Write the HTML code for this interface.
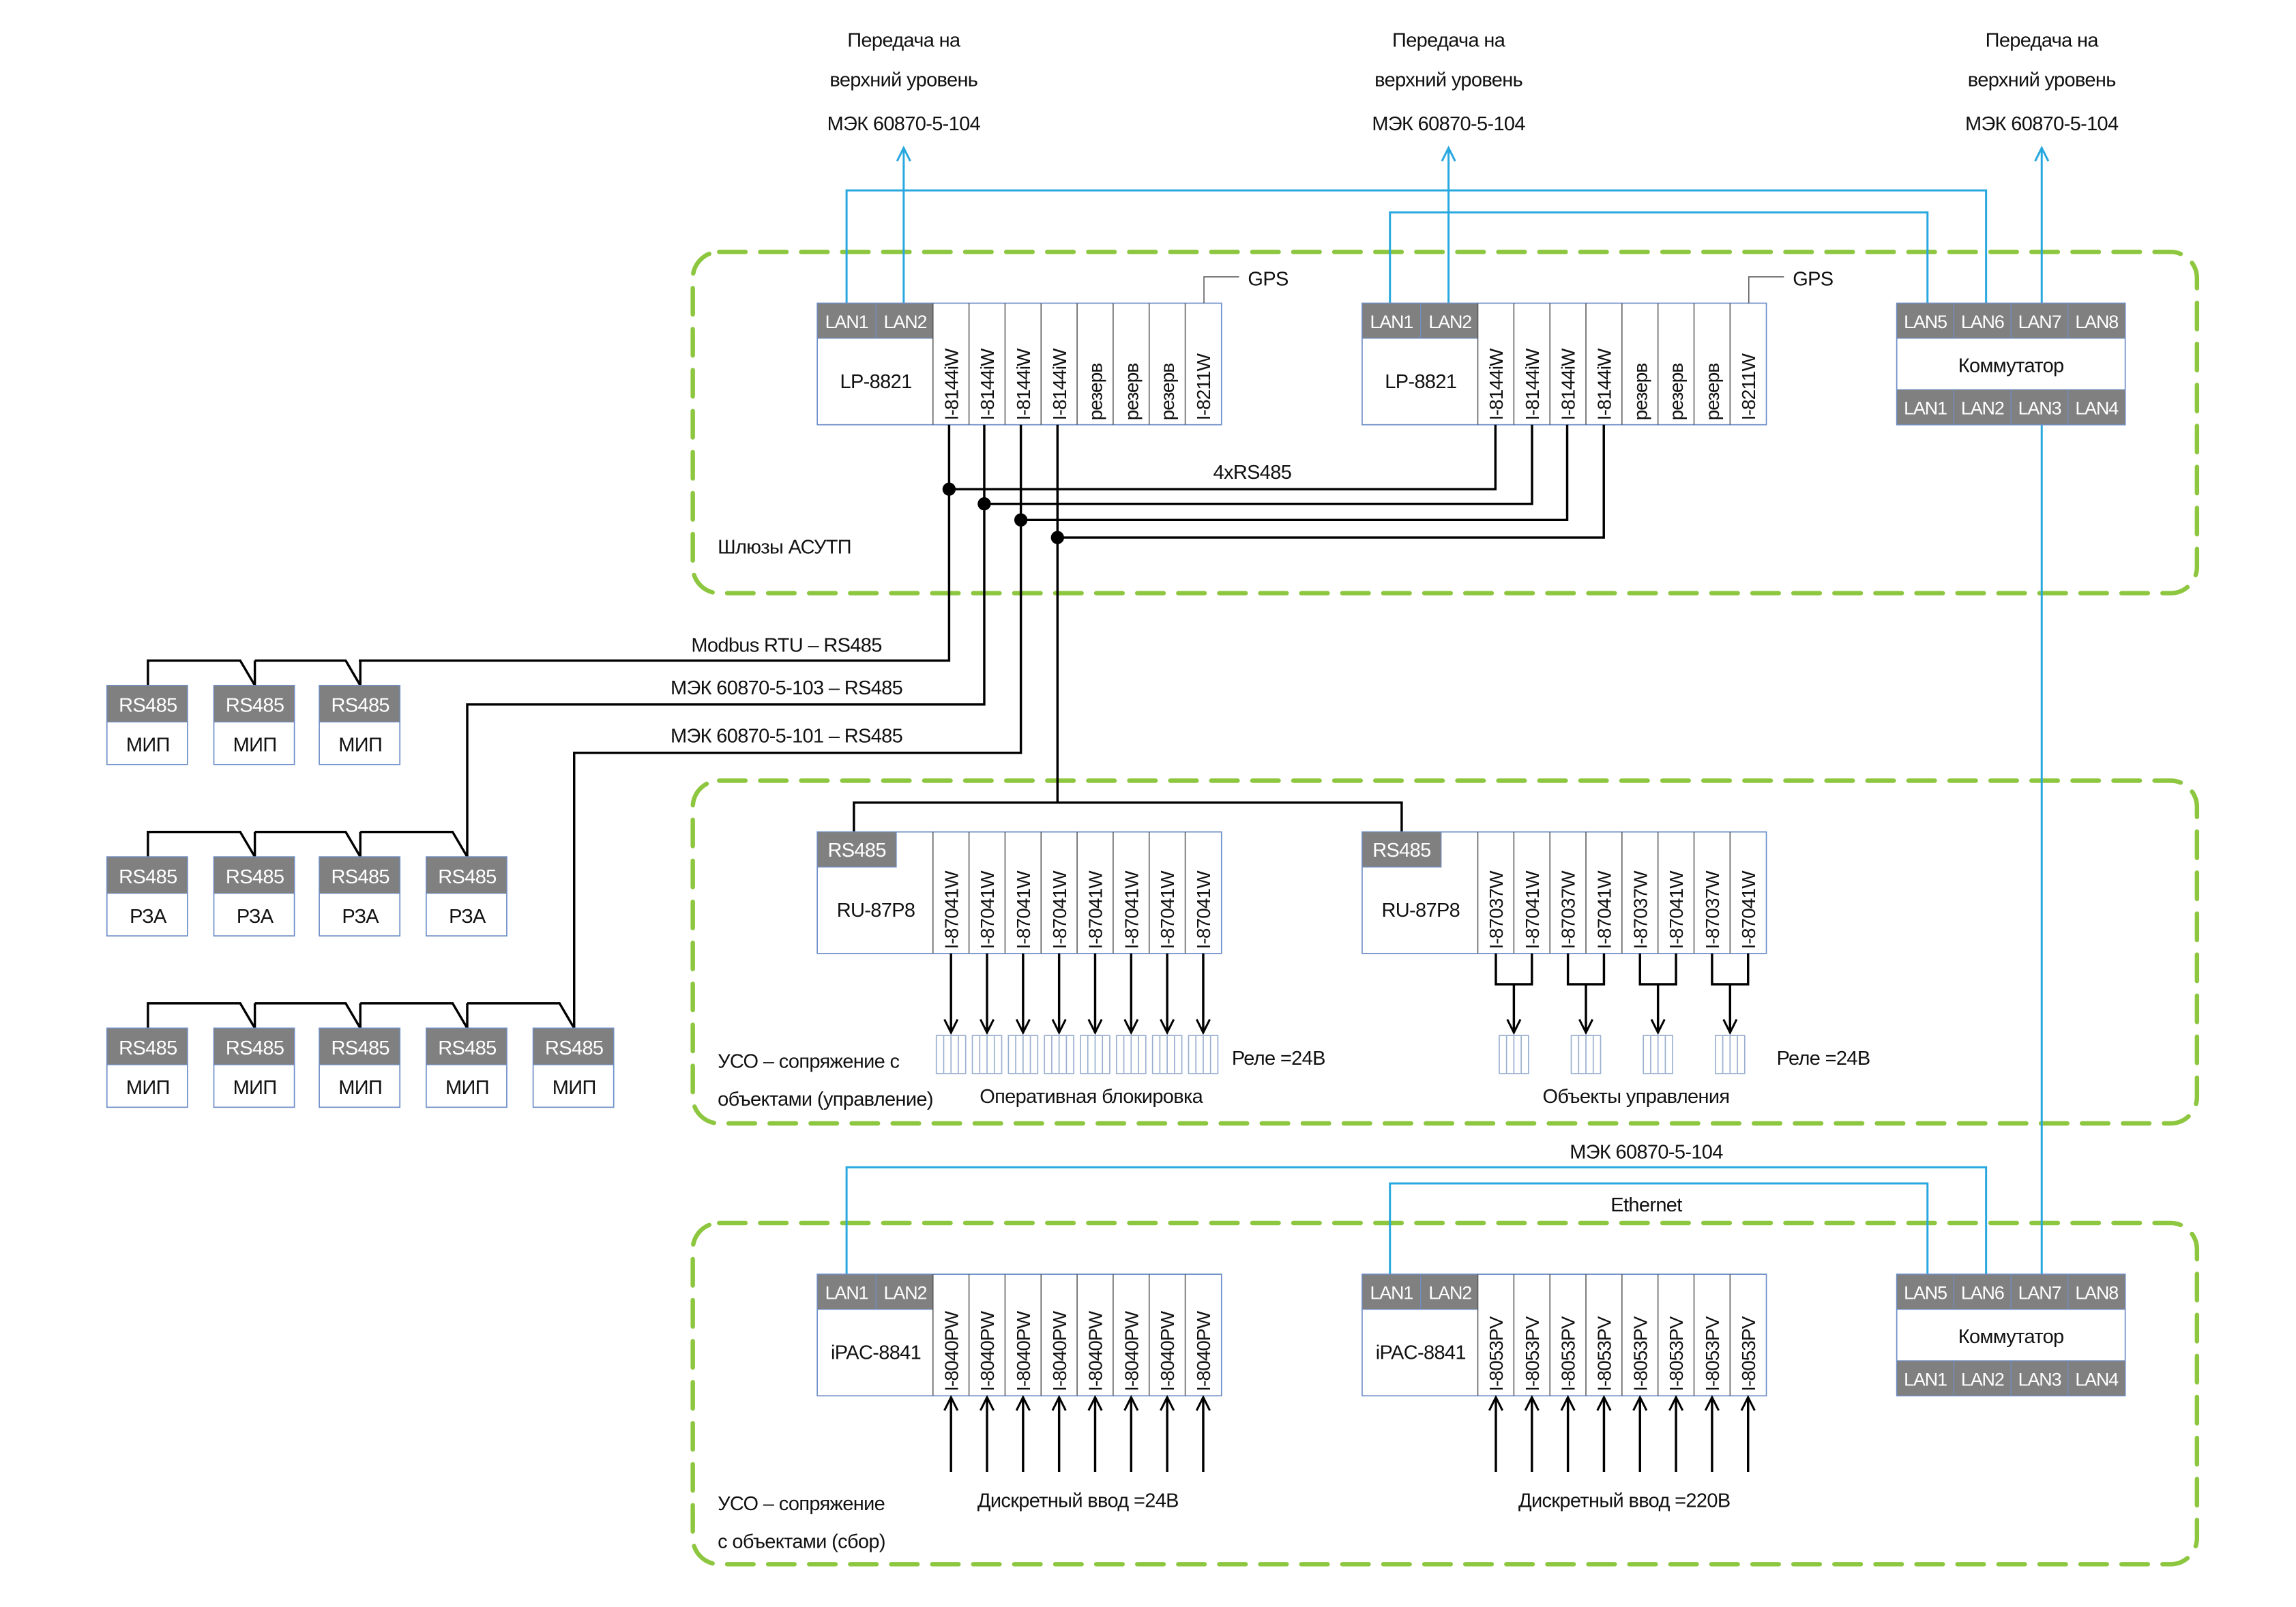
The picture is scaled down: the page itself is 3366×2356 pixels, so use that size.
<!DOCTYPE html>
<html><head><meta charset="utf-8"><style>
html,body{margin:0;padding:0;background:#fff;}
svg{display:block;}
text{font-family:"Liberation Sans Narrow","Liberation Sans",sans-serif;font-size:13.5px;letter-spacing:-0.3px;fill:#111;}
.w{fill:#fff;}
.h{font-size:12.5px;letter-spacing:-0.5px;}
.c{text-anchor:middle;}
.r{font-size:13px;letter-spacing:-0.4px;}
.box{fill:#fff;stroke:#6f8fc9;stroke-width:0.8;}
.hd{fill:#808080;stroke:#6f8fc9;stroke-width:0.5;}
.dash{fill:none;stroke:#8dc63f;stroke-width:3;stroke-dasharray:18 10;stroke-linecap:round;}
.bl{fill:none;stroke:#29a8e0;stroke-width:1.4;}
.k{fill:none;stroke:#000;stroke-width:1.6;}
.g{fill:none;stroke:#555;stroke-width:0.7;}
.rl{fill:#fff;stroke:#9bb0d0;stroke-width:0.8;}
</style></head><body>
<svg width="3366" height="2356" viewBox="0 0 1567.6 1097.2" preserveAspectRatio="none" xmlns="http://www.w3.org/2000/svg">
<defs>
<marker id="ab" markerWidth="12" markerHeight="12" refX="10" refY="6" orient="auto" markerUnits="userSpaceOnUse"><path d="M1,1.5 L10,6 L1,10.5" fill="none" stroke="#29a8e0" stroke-width="1.4"/></marker>
<marker id="ak" markerWidth="12" markerHeight="12" refX="10" refY="6" orient="auto" markerUnits="userSpaceOnUse"><path d="M1,1.5 L10,6 L1,10.5" fill="none" stroke="#000" stroke-width="1.4"/></marker>
</defs>

<text class="c" x="617" y="32">Передача на</text><text class="c" x="617" y="59">верхний уровень</text><text class="c" x="617" y="89">МЭК 60870-5-104</text>
<text class="c" x="989" y="32">Передача на</text><text class="c" x="989" y="59">верхний уровень</text><text class="c" x="989" y="89">МЭК 60870-5-104</text>
<text class="c" x="1394" y="32">Передача на</text><text class="c" x="1394" y="59">верхний уровень</text><text class="c" x="1394" y="89">МЭК 60870-5-104</text>

<rect class="dash" x="473" y="172" width="1027" height="233" rx="18"/>
<rect class="dash" x="473" y="533" width="1027" height="234" rx="18"/>
<rect class="dash" x="473" y="835" width="1027" height="233" rx="18"/>

<polyline class="bl" points="578,207 578,130 1356,130 1356,207"/>
<line class="bl" x1="617" y1="207" x2="617" y2="101" marker-end="url(#ab)"/>
<polyline class="bl" points="949,207 949,145 1316,145 1316,207"/>
<line class="bl" x1="989" y1="207" x2="989" y2="101" marker-end="url(#ab)"/>
<line class="bl" x1="1394" y1="207" x2="1394" y2="101" marker-end="url(#ab)"/>
<line class="bl" x1="1394" y1="290" x2="1394" y2="870"/>
<polyline class="bl" points="578,870 578,797 1356,797 1356,870"/>
<polyline class="bl" points="949,870 949,808 1316,808 1316,870"/>
<text class="c" x="1124" y="791">МЭК 60870-5-104</text>
<text class="c" x="1124" y="827">Ethernet</text>

<!-- LP-8821 #1 -->
<rect class="box" x="558" y="207" width="276" height="83"/>
<rect class="hd" x="558" y="207" width="40" height="24"/><rect class="hd" x="598" y="207" width="39" height="24"/>
<text class="w c h" x="578" y="224">LAN1</text><text class="w c h" x="618" y="224">LAN2</text>
<text class="c" x="598" y="265">LP-8821</text>
<g class="g">
<line x1="637" y1="207" x2="637" y2="290"/><line x1="661.6" y1="207" x2="661.6" y2="290"/><line x1="686.2" y1="207" x2="686.2" y2="290"/><line x1="710.8" y1="207" x2="710.8" y2="290"/><line x1="735.4" y1="207" x2="735.4" y2="290"/><line x1="760" y1="207" x2="760" y2="290"/><line x1="784.6" y1="207" x2="784.6" y2="290"/><line x1="809.2" y1="207" x2="809.2" y2="290"/>
</g>
<text class="r" transform="translate(654,287) rotate(-90)">I-8144iW</text>
<text class="r" transform="translate(678.6,287) rotate(-90)">I-8144iW</text>
<text class="r" transform="translate(703.2,287) rotate(-90)">I-8144iW</text>
<text class="r" transform="translate(727.8,287) rotate(-90)">I-8144iW</text>
<text class="r" transform="translate(752.4,287) rotate(-90)">резерв</text>
<text class="r" transform="translate(777,287) rotate(-90)">резерв</text>
<text class="r" transform="translate(801.6,287) rotate(-90)">резерв</text>
<text class="r" transform="translate(826.2,287) rotate(-90)">I-8211W</text>
<polyline class="g" points="822,207 822,189 846,189"/><text x="852" y="195">GPS</text>

<!-- LP-8821 #2 -->
<rect class="box" x="930" y="207" width="276" height="83"/>
<rect class="hd" x="930" y="207" width="40" height="24"/><rect class="hd" x="970" y="207" width="39" height="24"/>
<text class="w c h" x="950" y="224">LAN1</text><text class="w c h" x="990" y="224">LAN2</text>
<text class="c" x="970" y="265">LP-8821</text>
<g class="g">
<line x1="1009" y1="207" x2="1009" y2="290"/><line x1="1033.6" y1="207" x2="1033.6" y2="290"/><line x1="1058.2" y1="207" x2="1058.2" y2="290"/><line x1="1082.8" y1="207" x2="1082.8" y2="290"/><line x1="1107.4" y1="207" x2="1107.4" y2="290"/><line x1="1132" y1="207" x2="1132" y2="290"/><line x1="1156.6" y1="207" x2="1156.6" y2="290"/><line x1="1181.2" y1="207" x2="1181.2" y2="290"/>
</g>
<text class="r" transform="translate(1026,287) rotate(-90)">I-8144iW</text>
<text class="r" transform="translate(1050.6,287) rotate(-90)">I-8144iW</text>
<text class="r" transform="translate(1075.2,287) rotate(-90)">I-8144iW</text>
<text class="r" transform="translate(1099.8,287) rotate(-90)">I-8144iW</text>
<text class="r" transform="translate(1124.4,287) rotate(-90)">резерв</text>
<text class="r" transform="translate(1149,287) rotate(-90)">резерв</text>
<text class="r" transform="translate(1173.6,287) rotate(-90)">резерв</text>
<text class="r" transform="translate(1198.2,287) rotate(-90)">I-8211W</text>
<polyline class="g" points="1194,207 1194,189 1218,189"/><text x="1224" y="195">GPS</text>

<!-- Switch top -->
<rect class="box" x="1295" y="207" width="156" height="83"/>
<rect class="hd" x="1295" y="207" width="39" height="24"/><rect class="hd" x="1334" y="207" width="39" height="24"/><rect class="hd" x="1373" y="207" width="39" height="24"/><rect class="hd" x="1412" y="207" width="39" height="24"/>
<text class="w c h" x="1314.5" y="224">LAN5</text><text class="w c h" x="1353.5" y="224">LAN6</text><text class="w c h" x="1392.5" y="224">LAN7</text><text class="w c h" x="1431.5" y="224">LAN8</text>
<text class="c" x="1373" y="254">Коммутатор</text>
<rect class="hd" x="1295" y="266" width="39" height="24"/><rect class="hd" x="1334" y="266" width="39" height="24"/><rect class="hd" x="1373" y="266" width="39" height="24"/><rect class="hd" x="1412" y="266" width="39" height="24"/>
<text class="w c h" x="1314.5" y="283">LAN1</text><text class="w c h" x="1353.5" y="283">LAN2</text><text class="w c h" x="1392.5" y="283">LAN3</text><text class="w c h" x="1431.5" y="283">LAN4</text>

<text x="490" y="378">Шлюзы АСУТП</text>

<polyline class="k" points="1021,290 1021,334 648,334"/>
<polyline class="k" points="1046,290 1046,344 672,344"/>
<polyline class="k" points="1070,290 1070,355 697,355"/>
<polyline class="k" points="1095,290 1095,367 722,367"/>
<text class="c" x="855" y="327">4xRS485</text>
<polyline class="k" points="648,290 648,451 245,451"/>
<polyline class="k" points="672,290 672,481 319,481 319,585"/>
<polyline class="k" points="697,290 697,514 392,514 392,702"/>
<polyline class="k" points="722,290 722,548"/>
<polyline class="k" points="583,568 583,548 957,548 957,568"/>
<circle cx="648" cy="334" r="4.5"/><circle cx="672" cy="344" r="4.5"/><circle cx="697" cy="355" r="4.5"/><circle cx="722" cy="367" r="4.5"/>
<text class="c" x="537" y="445">Modbus RTU – RS485</text>
<text class="c" x="537" y="474">МЭК 60870-5-103 – RS485</text>
<text class="c" x="537" y="507">МЭК 60870-5-101 – RS485</text>

<polyline class="k" points="101,468 101,451 164,451 174,468"/><line class="k" x1="174" y1="451" x2="174" y2="468"/>
<polyline class="k" points="174,451 236,451 246,468"/><line class="k" x1="246" y1="451" x2="246" y2="468"/>
<polyline class="k" points="101,585 101,568 164,568 174,585"/><line class="k" x1="174" y1="568" x2="174" y2="585"/>
<polyline class="k" points="174,568 236,568 246,585"/><line class="k" x1="246" y1="568" x2="246" y2="585"/>
<polyline class="k" points="246,568 309,568 319,585"/>
<polyline class="k" points="101,702 101,685 164,685 174,702"/><line class="k" x1="174" y1="685" x2="174" y2="702"/>
<polyline class="k" points="174,685 236,685 246,702"/><line class="k" x1="246" y1="685" x2="246" y2="702"/>
<polyline class="k" points="246,685 309,685 319,702"/><line class="k" x1="319" y1="685" x2="319" y2="702"/>
<polyline class="k" points="319,685 382,685 392,702"/>

<g>
<rect class="box" x="73" y="468" width="55" height="54"/><rect class="hd" x="73" y="468" width="55" height="25"/><text class="w c" x="101" y="486">RS485</text><text class="c" x="101" y="513">МИП</text>
<rect class="box" x="146" y="468" width="55" height="54"/><rect class="hd" x="146" y="468" width="55" height="25"/><text class="w c" x="174" y="486">RS485</text><text class="c" x="174" y="513">МИП</text>
<rect class="box" x="218" y="468" width="55" height="54"/><rect class="hd" x="218" y="468" width="55" height="25"/><text class="w c" x="246" y="486">RS485</text><text class="c" x="246" y="513">МИП</text>
<rect class="box" x="73" y="585" width="55" height="54"/><rect class="hd" x="73" y="585" width="55" height="25"/><text class="w c" x="101" y="603">RS485</text><text class="c" x="101" y="630">РЗА</text>
<rect class="box" x="146" y="585" width="55" height="54"/><rect class="hd" x="146" y="585" width="55" height="25"/><text class="w c" x="174" y="603">RS485</text><text class="c" x="174" y="630">РЗА</text>
<rect class="box" x="218" y="585" width="55" height="54"/><rect class="hd" x="218" y="585" width="55" height="25"/><text class="w c" x="246" y="603">RS485</text><text class="c" x="246" y="630">РЗА</text>
<rect class="box" x="291" y="585" width="55" height="54"/><rect class="hd" x="291" y="585" width="55" height="25"/><text class="w c" x="319" y="603">RS485</text><text class="c" x="319" y="630">РЗА</text>
<rect class="box" x="73" y="702" width="55" height="54"/><rect class="hd" x="73" y="702" width="55" height="25"/><text class="w c" x="101" y="720">RS485</text><text class="c" x="101" y="747">МИП</text>
<rect class="box" x="146" y="702" width="55" height="54"/><rect class="hd" x="146" y="702" width="55" height="25"/><text class="w c" x="174" y="720">RS485</text><text class="c" x="174" y="747">МИП</text>
<rect class="box" x="218" y="702" width="55" height="54"/><rect class="hd" x="218" y="702" width="55" height="25"/><text class="w c" x="246" y="720">RS485</text><text class="c" x="246" y="747">МИП</text>
<rect class="box" x="291" y="702" width="55" height="54"/><rect class="hd" x="291" y="702" width="55" height="25"/><text class="w c" x="319" y="720">RS485</text><text class="c" x="319" y="747">МИП</text>
<rect class="box" x="364" y="702" width="55" height="54"/><rect class="hd" x="364" y="702" width="55" height="25"/><text class="w c" x="392" y="720">RS485</text><text class="c" x="392" y="747">МИП</text>
</g>

<!-- RU-87P8 #1 -->
<rect class="box" x="558" y="568" width="276" height="83"/>
<rect class="hd" x="558" y="568" width="54" height="24"/><text class="w c" x="585" y="585">RS485</text>
<text class="c" x="598" y="626">RU-87P8</text>
<g class="g">
<line x1="637" y1="568" x2="637" y2="651"/><line x1="661.6" y1="568" x2="661.6" y2="651"/><line x1="686.2" y1="568" x2="686.2" y2="651"/><line x1="710.8" y1="568" x2="710.8" y2="651"/><line x1="735.4" y1="568" x2="735.4" y2="651"/><line x1="760" y1="568" x2="760" y2="651"/><line x1="784.6" y1="568" x2="784.6" y2="651"/><line x1="809.2" y1="568" x2="809.2" y2="651"/>
</g>
<text class="r" transform="translate(654,648) rotate(-90)">I-87041W</text>
<text class="r" transform="translate(678.6,648) rotate(-90)">I-87041W</text>
<text class="r" transform="translate(703.2,648) rotate(-90)">I-87041W</text>
<text class="r" transform="translate(727.8,648) rotate(-90)">I-87041W</text>
<text class="r" transform="translate(752.4,648) rotate(-90)">I-87041W</text>
<text class="r" transform="translate(777,648) rotate(-90)">I-87041W</text>
<text class="r" transform="translate(801.6,648) rotate(-90)">I-87041W</text>
<text class="r" transform="translate(826.2,648) rotate(-90)">I-87041W</text>
<g>
<line class="k" x1="649.3" y1="651" x2="649.3" y2="705" marker-end="url(#ak)"/>
<line class="k" x1="673.9" y1="651" x2="673.9" y2="705" marker-end="url(#ak)"/>
<line class="k" x1="698.5" y1="651" x2="698.5" y2="705" marker-end="url(#ak)"/>
<line class="k" x1="723.1" y1="651" x2="723.1" y2="705" marker-end="url(#ak)"/>
<line class="k" x1="747.7" y1="651" x2="747.7" y2="705" marker-end="url(#ak)"/>
<line class="k" x1="772.3" y1="651" x2="772.3" y2="705" marker-end="url(#ak)"/>
<line class="k" x1="796.9" y1="651" x2="796.9" y2="705" marker-end="url(#ak)"/>
<line class="k" x1="821.5" y1="651" x2="821.5" y2="705" marker-end="url(#ak)"/>
</g>
<g>
<g transform="translate(649.3,720)"><rect class="rl" x="-10" y="-13" width="20" height="26"/><path class="rl" d="M-5,-13V13M0,-13V13M5,-13V13"/></g>
<g transform="translate(673.9,720)"><rect class="rl" x="-10" y="-13" width="20" height="26"/><path class="rl" d="M-5,-13V13M0,-13V13M5,-13V13"/></g>
<g transform="translate(698.5,720)"><rect class="rl" x="-10" y="-13" width="20" height="26"/><path class="rl" d="M-5,-13V13M0,-13V13M5,-13V13"/></g>
<g transform="translate(723.1,720)"><rect class="rl" x="-10" y="-13" width="20" height="26"/><path class="rl" d="M-5,-13V13M0,-13V13M5,-13V13"/></g>
<g transform="translate(747.7,720)"><rect class="rl" x="-10" y="-13" width="20" height="26"/><path class="rl" d="M-5,-13V13M0,-13V13M5,-13V13"/></g>
<g transform="translate(772.3,720)"><rect class="rl" x="-10" y="-13" width="20" height="26"/><path class="rl" d="M-5,-13V13M0,-13V13M5,-13V13"/></g>
<g transform="translate(796.9,720)"><rect class="rl" x="-10" y="-13" width="20" height="26"/><path class="rl" d="M-5,-13V13M0,-13V13M5,-13V13"/></g>
<g transform="translate(821.5,720)"><rect class="rl" x="-10" y="-13" width="20" height="26"/><path class="rl" d="M-5,-13V13M0,-13V13M5,-13V13"/></g>
</g>
<text x="841" y="727">Реле =24В</text>
<text class="c" x="745" y="753">Оперативная блокировка</text>
<text x="490" y="729">УСО – сопряжение с</text>
<text x="490" y="755">объектами (управление)</text>

<!-- RU-87P8 #2 -->
<rect class="box" x="930" y="568" width="276" height="83"/>
<rect class="hd" x="930" y="568" width="54" height="24"/><text class="w c" x="957" y="585">RS485</text>
<text class="c" x="970" y="626">RU-87P8</text>
<g class="g">
<line x1="1009" y1="568" x2="1009" y2="651"/><line x1="1033.6" y1="568" x2="1033.6" y2="651"/><line x1="1058.2" y1="568" x2="1058.2" y2="651"/><line x1="1082.8" y1="568" x2="1082.8" y2="651"/><line x1="1107.4" y1="568" x2="1107.4" y2="651"/><line x1="1132" y1="568" x2="1132" y2="651"/><line x1="1156.6" y1="568" x2="1156.6" y2="651"/><line x1="1181.2" y1="568" x2="1181.2" y2="651"/>
</g>
<text class="r" transform="translate(1026,648) rotate(-90)">I-87037W</text>
<text class="r" transform="translate(1050.6,648) rotate(-90)">I-87041W</text>
<text class="r" transform="translate(1075.2,648) rotate(-90)">I-87037W</text>
<text class="r" transform="translate(1099.8,648) rotate(-90)">I-87041W</text>
<text class="r" transform="translate(1124.4,648) rotate(-90)">I-87037W</text>
<text class="r" transform="translate(1149,648) rotate(-90)">I-87041W</text>
<text class="r" transform="translate(1173.6,648) rotate(-90)">I-87037W</text>
<text class="r" transform="translate(1198.2,648) rotate(-90)">I-87041W</text>
<g>
<polyline class="k" points="1021.3,651 1021.3,672 1045.9,672 1045.9,651"/><line class="k" x1="1033.6" y1="672" x2="1033.6" y2="705" marker-end="url(#ak)"/>
<polyline class="k" points="1070.5,651 1070.5,672 1095.1,672 1095.1,651"/><line class="k" x1="1082.8" y1="672" x2="1082.8" y2="705" marker-end="url(#ak)"/>
<polyline class="k" points="1119.7,651 1119.7,672 1144.3,672 1144.3,651"/><line class="k" x1="1132" y1="672" x2="1132" y2="705" marker-end="url(#ak)"/>
<polyline class="k" points="1168.9,651 1168.9,672 1193.5,672 1193.5,651"/><line class="k" x1="1181.2" y1="672" x2="1181.2" y2="705" marker-end="url(#ak)"/>
</g>
<g transform="translate(1033.6,720)"><rect class="rl" x="-10" y="-13" width="20" height="26"/><path class="rl" d="M-5,-13V13M0,-13V13M5,-13V13"/></g>
<g transform="translate(1082.8,720)"><rect class="rl" x="-10" y="-13" width="20" height="26"/><path class="rl" d="M-5,-13V13M0,-13V13M5,-13V13"/></g>
<g transform="translate(1132,720)"><rect class="rl" x="-10" y="-13" width="20" height="26"/><path class="rl" d="M-5,-13V13M0,-13V13M5,-13V13"/></g>
<g transform="translate(1181.2,720)"><rect class="rl" x="-10" y="-13" width="20" height="26"/><path class="rl" d="M-5,-13V13M0,-13V13M5,-13V13"/></g>
<text x="1213" y="727">Реле =24В</text>
<text class="c" x="1117" y="753">Объекты управления</text>

<!-- iPAC #1 -->
<rect class="box" x="558" y="870" width="276" height="83"/>
<rect class="hd" x="558" y="870" width="40" height="24"/><rect class="hd" x="598" y="870" width="39" height="24"/>
<text class="w c h" x="578" y="887">LAN1</text><text class="w c h" x="618" y="887">LAN2</text>
<text class="c" x="598" y="928">iPAC-8841</text>
<g class="g">
<line x1="637" y1="870" x2="637" y2="953"/><line x1="661.6" y1="870" x2="661.6" y2="953"/><line x1="686.2" y1="870" x2="686.2" y2="953"/><line x1="710.8" y1="870" x2="710.8" y2="953"/><line x1="735.4" y1="870" x2="735.4" y2="953"/><line x1="760" y1="870" x2="760" y2="953"/><line x1="784.6" y1="870" x2="784.6" y2="953"/><line x1="809.2" y1="870" x2="809.2" y2="953"/>
</g>
<text class="r" transform="translate(654,950) rotate(-90)">I-8040PW</text>
<text class="r" transform="translate(678.6,950) rotate(-90)">I-8040PW</text>
<text class="r" transform="translate(703.2,950) rotate(-90)">I-8040PW</text>
<text class="r" transform="translate(727.8,950) rotate(-90)">I-8040PW</text>
<text class="r" transform="translate(752.4,950) rotate(-90)">I-8040PW</text>
<text class="r" transform="translate(777,950) rotate(-90)">I-8040PW</text>
<text class="r" transform="translate(801.6,950) rotate(-90)">I-8040PW</text>
<text class="r" transform="translate(826.2,950) rotate(-90)">I-8040PW</text>
<g>
<line class="k" x1="649.3" y1="1005" x2="649.3" y2="954" marker-end="url(#ak)"/>
<line class="k" x1="673.9" y1="1005" x2="673.9" y2="954" marker-end="url(#ak)"/>
<line class="k" x1="698.5" y1="1005" x2="698.5" y2="954" marker-end="url(#ak)"/>
<line class="k" x1="723.1" y1="1005" x2="723.1" y2="954" marker-end="url(#ak)"/>
<line class="k" x1="747.7" y1="1005" x2="747.7" y2="954" marker-end="url(#ak)"/>
<line class="k" x1="772.3" y1="1005" x2="772.3" y2="954" marker-end="url(#ak)"/>
<line class="k" x1="796.9" y1="1005" x2="796.9" y2="954" marker-end="url(#ak)"/>
<line class="k" x1="821.5" y1="1005" x2="821.5" y2="954" marker-end="url(#ak)"/>
</g>
<text class="c" x="736" y="1029">Дискретный ввод =24В</text>

<!-- iPAC #2 -->
<rect class="box" x="930" y="870" width="276" height="83"/>
<rect class="hd" x="930" y="870" width="40" height="24"/><rect class="hd" x="970" y="870" width="39" height="24"/>
<text class="w c h" x="950" y="887">LAN1</text><text class="w c h" x="990" y="887">LAN2</text>
<text class="c" x="970" y="928">iPAC-8841</text>
<g class="g">
<line x1="1009" y1="870" x2="1009" y2="953"/><line x1="1033.6" y1="870" x2="1033.6" y2="953"/><line x1="1058.2" y1="870" x2="1058.2" y2="953"/><line x1="1082.8" y1="870" x2="1082.8" y2="953"/><line x1="1107.4" y1="870" x2="1107.4" y2="953"/><line x1="1132" y1="870" x2="1132" y2="953"/><line x1="1156.6" y1="870" x2="1156.6" y2="953"/><line x1="1181.2" y1="870" x2="1181.2" y2="953"/>
</g>
<text class="r" transform="translate(1026,950) rotate(-90)">I-8053PV</text>
<text class="r" transform="translate(1050.6,950) rotate(-90)">I-8053PV</text>
<text class="r" transform="translate(1075.2,950) rotate(-90)">I-8053PV</text>
<text class="r" transform="translate(1099.8,950) rotate(-90)">I-8053PV</text>
<text class="r" transform="translate(1124.4,950) rotate(-90)">I-8053PV</text>
<text class="r" transform="translate(1149,950) rotate(-90)">I-8053PV</text>
<text class="r" transform="translate(1173.6,950) rotate(-90)">I-8053PV</text>
<text class="r" transform="translate(1198.2,950) rotate(-90)">I-8053PV</text>
<g>
<line class="k" x1="1021.3" y1="1005" x2="1021.3" y2="954" marker-end="url(#ak)"/>
<line class="k" x1="1045.9" y1="1005" x2="1045.9" y2="954" marker-end="url(#ak)"/>
<line class="k" x1="1070.5" y1="1005" x2="1070.5" y2="954" marker-end="url(#ak)"/>
<line class="k" x1="1095.1" y1="1005" x2="1095.1" y2="954" marker-end="url(#ak)"/>
<line class="k" x1="1119.7" y1="1005" x2="1119.7" y2="954" marker-end="url(#ak)"/>
<line class="k" x1="1144.3" y1="1005" x2="1144.3" y2="954" marker-end="url(#ak)"/>
<line class="k" x1="1168.9" y1="1005" x2="1168.9" y2="954" marker-end="url(#ak)"/>
<line class="k" x1="1193.5" y1="1005" x2="1193.5" y2="954" marker-end="url(#ak)"/>
</g>
<text class="c" x="1109" y="1029">Дискретный ввод =220В</text>

<!-- Switch bottom -->
<rect class="box" x="1295" y="870" width="156" height="83"/>
<rect class="hd" x="1295" y="870" width="39" height="24"/><rect class="hd" x="1334" y="870" width="39" height="24"/><rect class="hd" x="1373" y="870" width="39" height="24"/><rect class="hd" x="1412" y="870" width="39" height="24"/>
<text class="w c h" x="1314.5" y="887">LAN5</text><text class="w c h" x="1353.5" y="887">LAN6</text><text class="w c h" x="1392.5" y="887">LAN7</text><text class="w c h" x="1431.5" y="887">LAN8</text>
<text class="c" x="1373" y="917">Коммутатор</text>
<rect class="hd" x="1295" y="929" width="39" height="24"/><rect class="hd" x="1334" y="929" width="39" height="24"/><rect class="hd" x="1373" y="929" width="39" height="24"/><rect class="hd" x="1412" y="929" width="39" height="24"/>
<text class="w c h" x="1314.5" y="946">LAN1</text><text class="w c h" x="1353.5" y="946">LAN2</text><text class="w c h" x="1392.5" y="946">LAN3</text><text class="w c h" x="1431.5" y="946">LAN4</text>

<text x="490" y="1031">УСО – сопряжение</text>
<text x="490" y="1057">с объектами (сбор)</text>
</svg>
</body></html>
